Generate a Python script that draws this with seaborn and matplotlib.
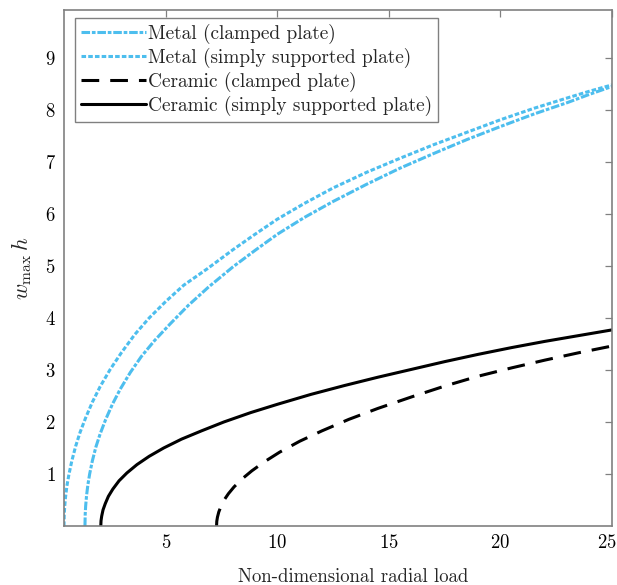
import matplotlib
matplotlib.use("Agg")
import matplotlib.pyplot as plt
import matplotlib.transforms as mtransforms
import seaborn as sns

# Post-buckling deflection curves (non-dimensional radial load vs. w_max h)
metal_clamped_load = [1.37, 1.38, 1.40, 1.44, 1.50, 1.58, 1.70, 1.86, 2.05, 2.30, 2.60,
                      2.95, 3.40, 3.90, 4.50, 5.20, 6.00, 6.90, 8.00, 9.00, 10.00,
                      11.20, 12.50, 14.00, 15.50, 17.00, 18.50, 20.00, 21.50, 23.00,
                      24.00, 25.00]
metal_clamped_w = [0.00, 0.22, 0.38, 0.58, 0.79, 1.00, 1.25, 1.52, 1.77, 2.05, 2.34,
                   2.63, 2.95, 3.26, 3.57, 3.89, 4.24, 4.59, 4.98, 5.30, 5.61,
                   5.93, 6.24, 6.57, 6.88, 7.16, 7.43, 7.68, 7.92, 8.14,
                   8.30, 8.45]

metal_ss_load = [0.43, 0.44, 0.46, 0.50, 0.56, 0.65, 0.78, 0.95, 1.15, 1.40, 1.70,
                 2.05, 2.50, 3.00, 3.60, 4.25, 5.00, 5.80, 6.87, 8.00, 9.00, 10.00,
                 11.20, 12.50, 14.00, 15.50, 17.00, 18.50, 20.00, 21.50, 23.00,
                 24.00, 25.00]
metal_ss_w = [0.00, 0.21, 0.37, 0.56, 0.77, 0.99, 1.25, 1.53, 1.80, 2.08, 2.38,
              2.68, 3.01, 3.33, 3.68, 4.00, 4.32, 4.63, 4.95, 5.31, 5.61, 5.90,
              6.20, 6.50, 6.80, 7.07, 7.33, 7.57, 7.81, 8.03, 8.23,
              8.36, 8.48]

ceramic_clamped_load = [7.27, 7.28, 7.31, 7.37, 7.47, 7.61, 7.80, 8.05, 8.40, 8.85, 9.40,
                        10.10, 11.00, 12.00, 13.20, 14.50, 16.00, 17.50, 19.00, 20.50,
                        22.00, 23.50, 25.00]
ceramic_clamped_w = [0.00, 0.09, 0.17, 0.27, 0.38, 0.50, 0.62, 0.75, 0.90, 1.06, 1.23,
                     1.42, 1.63, 1.83, 2.05, 2.26, 2.48, 2.69, 2.88, 3.04,
                     3.19, 3.33, 3.46]

ceramic_ss_load = [2.08, 2.09, 2.12, 2.18, 2.28, 2.42, 2.62, 2.90, 3.25, 3.70, 4.25,
                   4.90, 5.70, 6.60, 7.60, 8.80, 10.00, 11.50, 13.00, 14.50, 16.00,
                   17.50, 19.00, 20.50, 22.00, 23.50, 25.00]
ceramic_ss_w = [0.00, 0.10, 0.19, 0.31, 0.43, 0.57, 0.71, 0.87, 1.02, 1.18, 1.34,
                1.50, 1.67, 1.83, 2.00, 2.18, 2.34, 2.53, 2.70, 2.86, 3.01,
                3.16, 3.30, 3.43, 3.55, 3.66, 3.77]

series_labels = ["Metal (clamped plate)", "Metal (simply supported plate)",
                 "Ceramic (clamped plate)", "Ceramic (simply supported plate)"]
x_ticks = [5, 10, 15, 20, 25]
y_ticks = [1, 2, 3, 4, 5, 6, 7, 8, 9]

sns.set_style("white")
plt.rcParams["font.family"] = "serif"
plt.rcParams["font.serif"] = ["cmr10", "DejaVu Serif"]
plt.rcParams["mathtext.fontset"] = "cm"
plt.rcParams["axes.formatter.use_mathtext"] = True
plt.rcParams["axes.unicode_minus"] = False

blue = "#4DBEEE"
lw = 2.2
common = dict(linewidth=lw, estimator=None, sort=False,
              solid_joinstyle="round", dash_joinstyle="round")

fig = plt.figure(figsize=(6.17, 5.85), dpi=100)
ax = fig.add_axes([64 / 617, 59 / 585, 548 / 617, 516 / 585])

sns.lineplot(x=metal_clamped_load, y=metal_clamped_w, ax=ax, color=blue,
             linestyle=(0, (2.8, 0.6, 1.2, 0.6)), label=series_labels[0], **common)
sns.lineplot(x=metal_ss_load, y=metal_ss_w, ax=ax, color=blue,
             linestyle=(0, (1.5, 0.7)), label=series_labels[1], **common)
sns.lineplot(x=ceramic_clamped_load, y=ceramic_clamped_w, ax=ax, color="black",
             linestyle=(0, (5.8, 3.6)), label=series_labels[2], **common)
sns.lineplot(x=ceramic_ss_load, y=ceramic_ss_w, ax=ax, color="black",
             linestyle="-", label=series_labels[3], **common)

ax.set_xlim(0.43, 25)
ax.set_ylim(0, 9.92)
ax.set_xticks(x_ticks)
ax.set_yticks(y_ticks)
ax.tick_params(axis="both", which="both", direction="in", length=5, width=0.9,
               color="#808080", labelsize=13.5, labelcolor="black",
               top=True, right=True, pad=6)
for side in ax.spines.values():
    side.set_color("#808080")
    side.set_linewidth(1.2)

# keep the last x tick label inside the canvas
last_label = ax.get_xticklabels()[-1]
last_label.set_transform(last_label.get_transform()
                         + mtransforms.ScaledTranslation(-5 / 100, 0, fig.dpi_scale_trans))

ax.set_xlabel("Non-dimensional radial load", fontsize=13.5)
ax.xaxis.set_label_coords(0.527, -0.082)
ax.set_ylabel(r"$w_{\max}\,h$", fontsize=16, labelpad=8)

leg = ax.legend(loc="upper left", bbox_to_anchor=(0.020, 0.9845), borderaxespad=0,
                fontsize=13.9, handlelength=3.4, handletextpad=0.1,
                labelspacing=0.2, borderpad=0.3, fancybox=False, framealpha=1,
                edgecolor="#808080")
leg.get_frame().set_linewidth(1.0)

fig.savefig("out.png", dpi=100)
